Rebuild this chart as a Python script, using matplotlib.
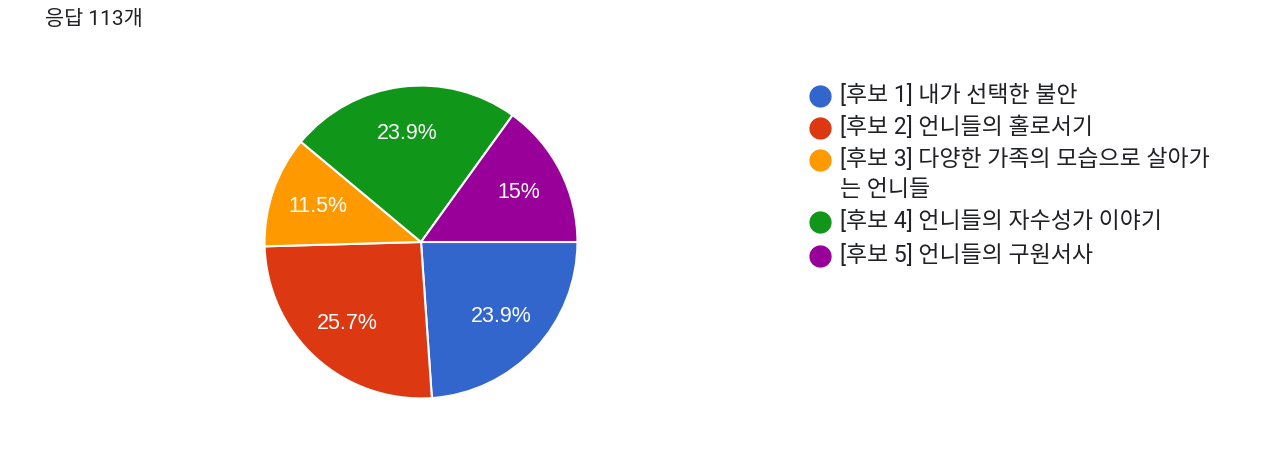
import matplotlib
matplotlib.use("Agg")
import matplotlib.pyplot as plt
from matplotlib.lines import Line2D

plt.rcParams['font.family'] = ['Roboto', 'Noto Sans CJK KR', 'DejaVu Sans']

# data (113 responses)
title = "응답 113개"
labels = [
    "[후보 1] 내가 선택한 불안",
    "[후보 2] 언니들의 홀로서기",
    "[후보 3] 다양한 가족의 모습으로 살아가\n는 언니들",
    "[후보 4] 언니들의 자수성가 이야기",
    "[후보 5] 언니들의 구원서사",
]
counts = [27, 29, 13, 27, 17]
colors = ["#3366cc", "#dc3912", "#ff9900", "#109618", "#990099"]


def pct_label(p):
    s = f"{p:.1f}"
    if s.endswith(".0"):
        s = s[:-2]
    return s + "%"


W, H = 1280, 459
fig = plt.figure(figsize=(W / 100, H / 100), dpi=100)

# pie centre ~ (421, 242) px, radius ~158 px
cx, cy, r = 421, 242, 158
ax = fig.add_axes([(cx - r) / W, (H - cy - r) / H, 2 * r / W, 2 * r / H])
wedges, texts, autotexts = ax.pie(
    counts, colors=colors, startangle=0, counterclock=False,
    autopct=pct_label, pctdistance=0.7, radius=1,
    wedgeprops=dict(edgecolor="white", linewidth=1.5),
    textprops=dict(color="white", fontsize=15.5,
                   family=['Liberation Sans', 'DejaVu Sans']),
)
ax.set_xlim(-1.01, 1.01)
ax.set_ylim(-1.01, 1.01)
ax.set_aspect("equal")
ax.axis("off")

fig.text(45 / W, 1 - 19 / H, title, fontsize=15, color="#202124", va="center", ha="left")

# legend, drawn by hand to match the layout
ys = [96, 128, 160, 222, 256]
for y, lab, c in zip(ys, labels, colors):
    fig.add_artist(Line2D([820 / W], [1 - y / H], marker="o", markersize=15,
                          color=c, linestyle="none", transform=fig.transFigure))
    for k, line in enumerate(lab.split("\n")):
        fig.text(840 / W, 1 - (y - 1 + 30 * k) / H, line, fontsize=16.5,
                 color="#202124", va="center", ha="left")

fig.savefig("out.png", dpi=100, facecolor="white")
